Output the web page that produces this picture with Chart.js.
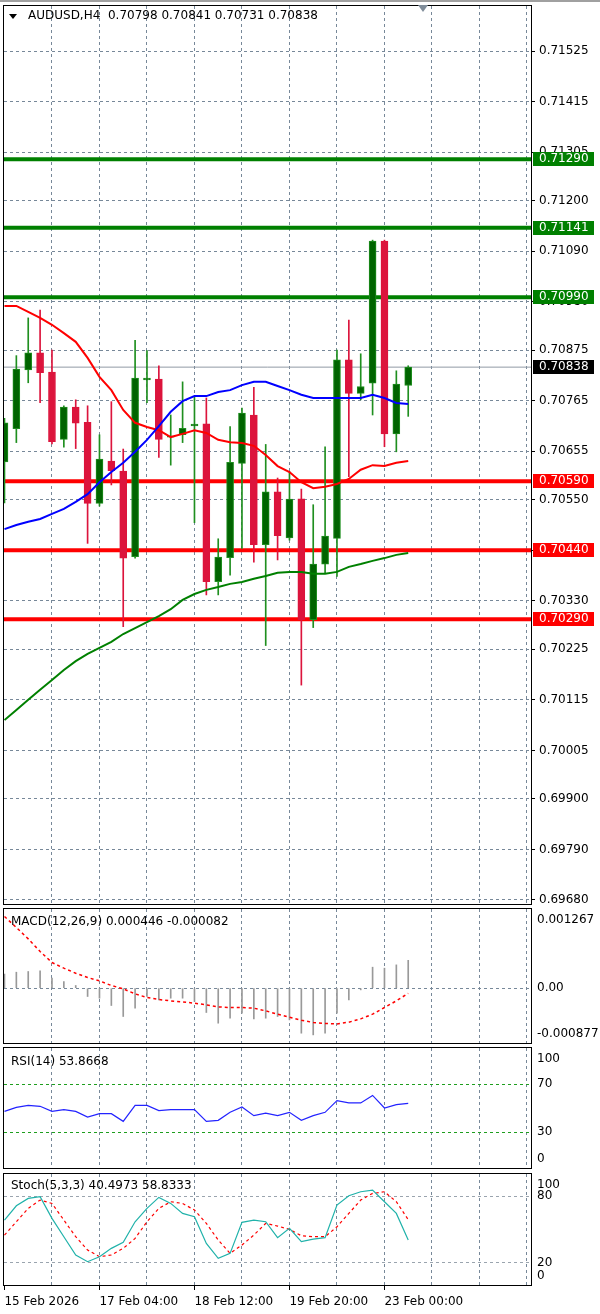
<!DOCTYPE html>
<html>
<head>
<meta charset="utf-8">
<script src="https://cdn.jsdelivr.net/npm/chart.js@4.4.1/dist/chart.umd.min.js"></script>
<style>
  body { margin: 0; background: #fff; width: 600px; height: 1314px; position: relative; overflow: hidden; }
  canvas { position: absolute; left: 0; }
  #topbar { position: absolute; left: 0; top: 0; width: 600px; height: 2px; background: #a0a0a0; }
</style>
</head>
<body>
<div id="topbar"></div>
<canvas id="main" width="600" height="906" style="top:0px"></canvas>
<canvas id="macd" width="600" height="138" style="top:907px"></canvas>
<canvas id="rsi" width="600" height="124" style="top:1046px"></canvas>
<canvas id="stoch" width="600" height="142" style="top:1172px"></canvas>
<script>
// ---- data (H4 bars, oldest first) ----
const opens  = [0.70632,0.70704,0.70832,0.70869,0.70827,0.70681,0.70751,0.70718,0.70542,0.70634,0.70612,0.70426,0.70810,0.70812,0.70686,0.70691,0.70710,0.70715,0.70372,0.70424,0.70629,0.70734,0.70452,0.70567,0.70467,0.70552,0.70289,0.70410,0.70466,0.70854,0.70781,0.70803,0.71112,0.70693,0.70798];
const highs  = [0.70727,0.70863,0.70945,0.70962,0.70875,0.70754,0.70767,0.70754,0.70691,0.70763,0.70660,0.70896,0.70874,0.70841,0.70734,0.70806,0.70774,0.70771,0.70465,0.70709,0.70749,0.70794,0.70670,0.70597,0.70611,0.70573,0.70539,0.70665,0.70875,0.70940,0.70867,0.71114,0.71114,0.70830,0.70841];
const lows   = [0.70543,0.70674,0.70804,0.70761,0.70671,0.70664,0.70661,0.70455,0.70536,0.70582,0.70274,0.70423,0.70761,0.70642,0.70625,0.70674,0.70500,0.70343,0.70343,0.70386,0.70444,0.70414,0.70233,0.70419,0.70462,0.70147,0.70272,0.70390,0.70383,0.70600,0.70767,0.70734,0.70665,0.70654,0.70731];
const closes = [0.70717,0.70834,0.70869,0.70826,0.70676,0.70751,0.70716,0.70542,0.70638,0.70613,0.70423,0.70814,0.70814,0.70681,0.70688,0.70705,0.70714,0.70372,0.70425,0.70631,0.70738,0.70452,0.70567,0.70472,0.70551,0.70289,0.70410,0.70471,0.70854,0.70781,0.70796,0.71112,0.70693,0.70801,0.70838];

const maRed   = [0.70971,0.70971,0.70958,0.70945,0.70930,0.70912,0.70893,0.70858,0.70817,0.70788,0.70745,0.70717,0.70708,0.70701,0.70686,0.70693,0.70701,0.70695,0.70680,0.70675,0.70673,0.70667,0.70647,0.70623,0.70610,0.70588,0.70575,0.70578,0.70584,0.70595,0.70615,0.70625,0.70623,0.70630,0.70634];
const maBlue  = [0.70486,0.70495,0.70502,0.70508,0.70519,0.70530,0.70545,0.70562,0.70588,0.70610,0.70630,0.70654,0.70680,0.70710,0.70741,0.70764,0.70775,0.70775,0.70784,0.70788,0.70799,0.70806,0.70806,0.70797,0.70788,0.70778,0.70771,0.70771,0.70771,0.70771,0.70771,0.70778,0.70771,0.70760,0.70758];
const maGreen = [0.70071,0.70093,0.70115,0.70137,0.70158,0.70180,0.70199,0.70215,0.70228,0.70241,0.70258,0.70271,0.70284,0.70297,0.70312,0.70332,0.70345,0.70354,0.70360,0.70367,0.70371,0.70378,0.70384,0.70391,0.70393,0.70393,0.70389,0.70389,0.70393,0.70404,0.70410,0.70417,0.70423,0.70430,0.70434];

const resistance = [0.71290, 0.71141, 0.70990];
const support    = [0.70590, 0.70440, 0.70290];
const lastPrice  = 0.70838;

const priceTicks = [0.71525,0.71415,0.71305,0.71200,0.71090,0.70980,0.70875,0.70765,0.70655,0.70550,0.70440,0.70330,0.70225,0.70115,0.70005,0.69900,0.69790,0.69680];

const macdHist   = [0.000224,0.000256,0.000267,0.000277,0.000160,0.000107,0.000043,-0.000133,-0.000160,-0.000277,-0.000453,-0.000320,-0.000133,-0.000187,-0.000160,-0.000160,-0.000213,-0.000389,-0.000560,-0.000480,-0.000400,-0.000491,-0.000480,-0.000453,-0.000507,-0.000720,-0.000747,-0.000720,-0.000400,-0.000187,-0.000027,0.000336,0.000320,0.000373,0.000446];
const macdSignal = [0.001147,0.000971,0.000789,0.000587,0.000411,0.000320,0.000240,0.000171,0.000117,0.000043,-0.000011,-0.000091,-0.000149,-0.000181,-0.000203,-0.000219,-0.000240,-0.000267,-0.000299,-0.000309,-0.000309,-0.000320,-0.000363,-0.000416,-0.000464,-0.000512,-0.000549,-0.000565,-0.000571,-0.000544,-0.000491,-0.000416,-0.000309,-0.000203,-0.000082];
const rsi        = [47.2,50.5,52.2,51.4,47.2,48.6,47.2,42.5,45.3,45.3,38.9,52.2,52.2,47.8,48.6,48.6,48.6,38.9,39.7,46.4,50.8,43.6,45.8,43.6,46.4,39.7,43.6,46.4,56.1,54.2,54.2,60.5,50.0,52.8,53.87];
const stochK     = [58.5,71.4,78.0,79.5,60.0,43.5,27.0,21.0,25.5,33.0,38.4,57.0,69.0,78.9,73.5,64.5,61.5,37.5,24.0,28.5,56.4,58.5,57.0,42.6,51.0,39.0,41.4,42.6,72.0,80.4,84.0,85.5,75.0,64.5,40.5];
const stochD     = [45.0,57.0,69.0,76.5,73.5,58.5,43.5,31.5,25.5,27.0,33.0,42.0,57.0,69.0,75.0,73.5,67.5,55.5,40.5,28.5,36.0,45.0,55.5,53.1,50.1,44.4,43.5,43.5,52.5,64.5,76.5,82.5,84.0,75.0,58.83];

const xLabelBars  = [0, 8, 16, 24, 32];
const xLabelTexts = ['15 Feb 2026', '17 Feb 04:00', '18 Feb 12:00', '19 Feb 20:00', '23 Feb 00:00'];
const gridBars    = [4, 8, 12, 16, 20, 24, 28, 32, 36, 40, 44];

const headerText = 'AUDUSD,H4  0.70798 0.70841 0.70731 0.70838';
const macdTitle  = 'MACD(12,26,9) 0.000446 -0.000082';
const rsiTitle   = 'RSI(14) 53.8668';
const stochTitle = 'Stoch(5,3,3) 40.4973 58.8333';

// ---- style ----
const FONT = '12px "DejaVu Sans"';
const GRID = '#778899';
const X_MIN = -0.04, X_MAX = 44.34;
const Y_MIN = 0.696713, Y_MAX = 0.716228;

Chart.defaults.font.family = '"DejaVu Sans", sans-serif';
Chart.defaults.font.size = 12;
Chart.defaults.color = '#000';

const idx = closes.map((_, i) => i);
const pts = arr => arr.map((v, i) => ({ x: i, y: v }));
const noPad = s => { s.paddingTop = 0; s.paddingBottom = 0; s.paddingLeft = 0; s.paddingRight = 0; };

function xAxis(withLabels) {
  return {
    type: 'linear', min: X_MIN, max: X_MAX, offset: false, bounds: 'data',
    afterBuildTicks: s => { s.ticks = [0].concat(gridBars).map(v => ({ value: v })); },
    afterFit: s => { s.height = withLabels ? 29 : 0; noPad(s); },
    grid: {
      offset: false,
      color: c => (c.tick && c.tick.value === 0) ? 'rgba(0,0,0,0)' : GRID,
      drawTicks: withLabels,
      tickLength: 5,
      tickBorderDash: [],
      tickColor: c => (c.tick && xLabelBars.includes(c.tick.value)) ? '#000' : 'rgba(0,0,0,0)'
    },
    border: { display: false, dash: [3, 3] },
    ticks: withLabels ? {
      autoSkip: false, maxRotation: 0, minRotation: 0, align: 'start', padding: 5,
      color: '#000',
      callback: v => { const k = xLabelBars.indexOf(v); return k >= 0 ? xLabelTexts[k] : ''; }
    } : { display: false }
  };
}

function subY(min, max, levels, color) {
  return {
    type: 'linear', position: 'right', min, max, bounds: 'data', beginAtZero: false,
    afterBuildTicks: s => { s.ticks = levels.map(v => ({ value: v })); },
    afterFit: s => { s.width = 69; noPad(s); },
    grid: { color, drawTicks: false },
    border: { display: false, dash: [3, 3] },
    ticks: { display: false }
  };
}

const frame = {
  id: 'frame',
  afterDraw(chart) {
    const { ctx, chartArea: a } = chart;
    ctx.save();
    ctx.strokeStyle = '#000';
    ctx.lineWidth = 1;
    ctx.strokeRect(Math.round(a.left) - 0.5, Math.round(a.top) - 0.5,
                   Math.round(a.right - a.left) + 1, Math.round(a.bottom - a.top) + 1);
    ctx.restore();
  }
};

function panelText(title, titleY, side) {
  return {
    id: 'panelText',
    afterDraw(chart) {
      const { ctx, chartArea: a } = chart;
      const y = chart.scales.y;
      ctx.save();
      ctx.font = FONT;
      ctx.fillStyle = '#000';
      ctx.textBaseline = 'middle';
      ctx.fillText(title, 11, titleY);
      side.forEach(([v, t]) => {
        const py = Math.min(a.bottom - 9, Math.max(a.top + 11, y.getPixelForValue(v)));
        ctx.fillText(t, 537, py);
      });
      ctx.restore();
    }
  };
}

const mainExtras = {
  id: 'mainExtras',
  afterDraw(chart) {
    const { ctx } = chart;
    const y = chart.scales.y;
    ctx.save();
    // header
    ctx.fillStyle = '#000';
    ctx.beginPath(); ctx.moveTo(9, 14); ctx.lineTo(17, 14); ctx.lineTo(13, 19); ctx.closePath(); ctx.fill();
    ctx.font = FONT;
    ctx.textBaseline = 'middle';
    ctx.fillText(headerText, 28, 16);
    // chart shift marker
    ctx.fillStyle = '#7f8c99';
    ctx.beginPath(); ctx.moveTo(418, 5); ctx.lineTo(428, 5); ctx.lineTo(423, 12); ctx.closePath(); ctx.fill();
    // price boxes on the axis
    const box = (v, bg) => {
      const py = Math.round(y.getPixelForValue(v));
      ctx.fillStyle = bg;
      ctx.fillRect(533, py - 7, 61, 14);
      ctx.fillStyle = '#fff';
      ctx.fillText(v.toFixed(5), 539, py);
    };
    resistance.forEach(v => box(v, '#008000'));
    support.forEach(v => box(v, '#ff0000'));
    box(lastPrice, '#000');
    ctx.restore();
  }
};

const levelSet = (v, color, w) => ({
  type: 'line', data: [{ x: X_MIN, y: v }, { x: X_MAX, y: v }],
  borderColor: color, borderWidth: w, pointRadius: 0, order: 5
});

const up = i => closes[i] >= opens[i];

// ---- main price chart ----
new Chart(document.getElementById('main'), {
  type: 'bar',
  data: {
    datasets: [
      ...resistance.map(v => levelSet(v, '#008000', 4)),
      ...support.map(v => levelSet(v, '#ff0000', 4)),
      levelSet(lastPrice, '#909aa4', 1),
      {
        type: 'bar', grouped: false, order: 3, barThickness: 1,
        data: idx.map(i => ({ x: i, y: [lows[i], highs[i]] })),
        backgroundColor: idx.map(i => up(i) ? '#1f8f1f' : '#dc143c')
      },
      {
        type: 'bar', grouped: false, order: 2, barThickness: 7,
        data: idx.map(i => ({ x: i, y: [opens[i], closes[i]] })),
        backgroundColor: idx.map(i => up(i) ? '#006400' : '#dc143c'),
        borderColor: idx.map(i => up(i) ? '#1f8f1f' : '#dc143c'),
        borderWidth: 1, borderSkipped: false
      },
      { type: 'line', data: pts(maGreen), borderColor: '#008000', borderWidth: 2, pointRadius: 0, order: 1, clip: 0 },
      { type: 'line', data: pts(maBlue), borderColor: '#0000ff', borderWidth: 2, pointRadius: 0, order: 1, clip: 0 },
      { type: 'line', data: pts(maRed), borderColor: '#ff0000', borderWidth: 2, pointRadius: 0, order: 1, clip: 0 }
    ]
  },
  options: {
    responsive: false, animation: false, devicePixelRatio: 1, events: [],
    layout: { padding: { top: 6, bottom: 2, left: 4, right: 0 } },
    plugins: { legend: { display: false }, tooltip: { enabled: false } },
    scales: {
      x: xAxis(false),
      y: {
        type: 'linear', position: 'right', min: Y_MIN, max: Y_MAX, bounds: 'data', beginAtZero: false,
        afterBuildTicks: s => { s.ticks = priceTicks.map(v => ({ value: v })); },
        afterFit: s => { s.width = 69; noPad(s); },
        grid: { color: GRID, drawTicks: true, tickLength: 4, tickColor: '#000', tickBorderDash: [] },
        border: { display: false, dash: [3, 3] },
        ticks: { autoSkip: false, padding: 4, color: '#000', callback: v => v.toFixed(5) }
      }
    }
  },
  plugins: [frame, mainExtras]
});

// ---- MACD ----
new Chart(document.getElementById('macd'), {
  type: 'bar',
  data: {
    datasets: [
      { type: 'line', data: pts(macdSignal), borderColor: '#ff0000', borderWidth: 1.5, borderDash: [3, 3], pointRadius: 0, order: 1 },
      { type: 'bar', grouped: false, barThickness: 1, data: pts(macdHist), backgroundColor: '#999999', order: 2 }
    ]
  },
  options: {
    responsive: false, animation: false, devicePixelRatio: 1, events: [],
    layout: { padding: { top: 2, bottom: 2, left: 4, right: 0 } },
    plugins: { legend: { display: false }, tooltip: { enabled: false } },
    scales: { x: xAxis(false), y: subY(-0.000877, 0.001267, [0], GRID) }
  },
  plugins: [frame, panelText(macdTitle, 14.5, [[0.001267, '0.001267'], [0, '0.00'], [-0.000877, '-0.000877']])]
});

// ---- RSI ----
new Chart(document.getElementById('rsi'), {
  type: 'line',
  data: {
    datasets: [
      { data: pts(rsi), borderColor: '#2323ff', borderWidth: 1.2, pointRadius: 0 }
    ]
  },
  options: {
    responsive: false, animation: false, devicePixelRatio: 1, events: [],
    layout: { padding: { top: 2, bottom: 2, left: 4, right: 0 } },
    plugins: { legend: { display: false }, tooltip: { enabled: false } },
    scales: { x: xAxis(false), y: subY(0, 100, [70, 30], '#1e9e1e') }
  },
  plugins: [frame, panelText(rsiTitle, 15.5, [[100, '100'], [70, '70'], [30, '30'], [0, '0']])]
});

// ---- Stochastic ----
new Chart(document.getElementById('stoch'), {
  type: 'line',
  data: {
    datasets: [
      { data: pts(stochK), borderColor: '#20b2aa', borderWidth: 1.2, pointRadius: 0 },
      { data: pts(stochD), borderColor: '#ff0000', borderWidth: 1.2, borderDash: [3, 3], pointRadius: 0 }
    ]
  },
  options: {
    responsive: false, animation: false, devicePixelRatio: 1, events: [],
    layout: { padding: { top: 2, bottom: 0, left: 4, right: 0 } },
    plugins: { legend: { display: false }, tooltip: { enabled: false } },
    scales: { x: xAxis(true), y: subY(0, 100, [80, 20], '#9aa4ae') }
  },
  plugins: [frame, panelText(stochTitle, 13.5, [[100, '100'], [80, '80'], [20, '20'], [0, '0']])]
});
</script>
</body>
</html>
